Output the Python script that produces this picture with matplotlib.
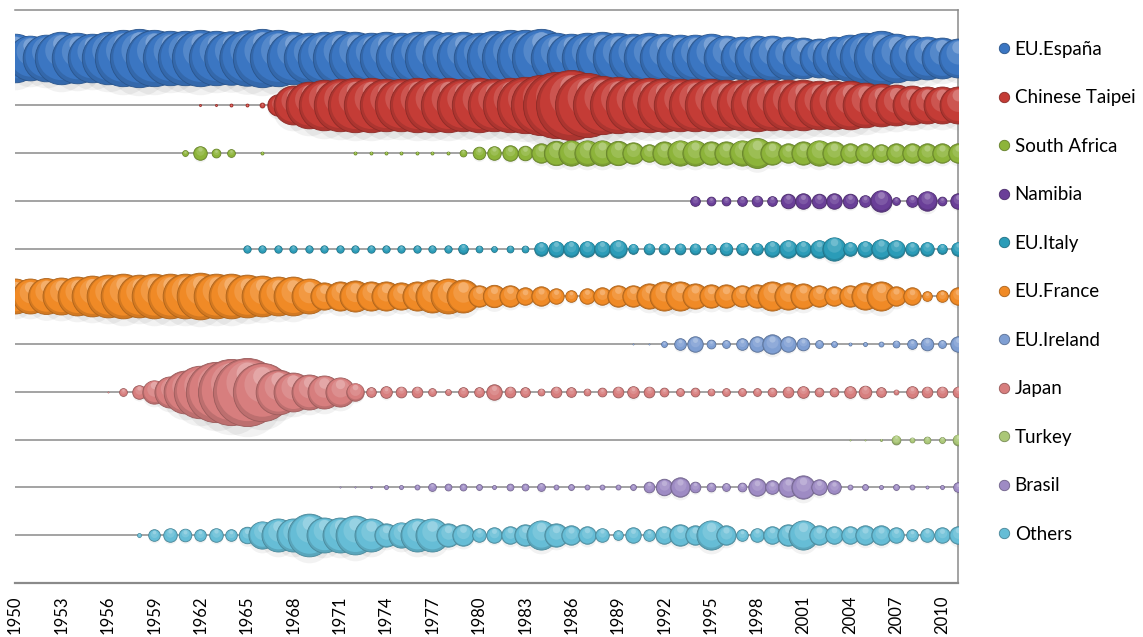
import numpy as np
import matplotlib.pyplot as plt
import matplotlib.transforms as mtransforms
from matplotlib.colors import to_rgb
from matplotlib.lines import Line2D

plt.rcParams['font.family'] = ['Lato', 'DejaVu Sans']

years = list(range(1950, 2012))

espana = [10000, 8460, 9220, 11660, 10820, 10000, 11660, 13460, 14400, 13460,
          12540, 12540, 13460, 12540, 12100, 13000, 14400, 13460, 11660, 10820,
          11660, 12540, 11660, 10820, 11660, 10820, 11660, 12540, 11240, 11660,
          10820, 12540, 13460, 13460, 14400, 10820, 10000, 10820, 11660, 10820,
          10000, 10820, 10000, 9220, 9220, 10000, 8460, 7740, 8460, 8460,
          7740, 7060, 6400, 7740, 9220, 10820, 12540, 10000, 8460, 7740,
          7060, 6400]
taipei = [0, 0, 0, 0, 0, 0, 0, 0, 0, 0,
          0, 0, 16, 16, 36, 36, 100, 1940, 6400, 9220,
          10820, 11660, 12540, 12540, 11660, 11660, 12540, 12540, 12540, 11660,
          12540, 11660, 12540, 13460, 15380, 18500, 20740, 17420, 14400, 13460,
          12540, 12540, 12100, 11660, 11660, 11660, 10820, 10820, 11660, 10820,
          10820, 10820, 10000, 10000, 10000, 8460, 7740, 7060, 6400, 5780,
          5780, 5780]
south_africa = [0, 0, 0, 0, 0, 0, 0, 0, 0, 0,
                0, 144, 784, 324, 256, 0, 36, 0, 0, 0,
                0, 0, 36, 36, 36, 36, 36, 36, 36, 196,
                676, 784, 1020, 900, 1600, 2500, 2700, 2700, 2700, 2500,
                1940, 1300, 2300, 2700, 2700, 2300, 2300, 2700, 3800, 2300,
                1600, 2300, 2700, 2300, 1600, 1600, 1300, 1600, 1600, 1600,
                1600, 1600]
namibia = [0, 0, 0, 0, 0, 0, 0, 0, 0, 0,
           0, 0, 0, 0, 0, 0, 0, 0, 0, 0,
           0, 0, 0, 0, 0, 0, 0, 0, 0, 0,
           0, 0, 0, 0, 0, 0, 0, 0, 0, 0,
           0, 0, 0, 0, 400, 324, 324, 400, 484, 400,
           900, 1020, 900, 1020, 900, 576, 1940, 256, 576, 1600,
           324, 1020]
italy = [0, 0, 0, 0, 0, 0, 0, 0, 0, 0,
         0, 0, 0, 0, 0, 230, 230, 230, 230, 230,
         230, 230, 230, 230, 230, 230, 230, 230, 230, 400,
         196, 144, 196, 196, 784, 1020, 1020, 1020, 1020, 1300,
         400, 484, 484, 484, 484, 400, 676, 576, 576, 1020,
         1300, 1020, 1300, 2300, 784, 1020, 1600, 1300, 784, 784,
         400, 784]
france = [5180, 5180, 5480, 5780, 6400, 7060, 7740, 8460, 7740, 8460,
          8460, 8460, 9220, 8460, 8460, 7740, 7060, 6400, 6400, 5180,
          3140, 3600, 4100, 3600, 3600, 3140, 3600, 4620, 5180, 4620,
          1940, 2120, 1940, 1300, 1600, 1020, 576, 1020, 1300, 1940,
          1940, 2700, 3600, 3600, 2700, 2300, 2300, 1940, 2300, 3600,
          3140, 2700, 1940, 1600, 1940, 3140, 3600, 1600, 1300, 400,
          576, 1300]
ireland = [0, 0, 0, 0, 0, 0, 0, 0, 0, 0,
           0, 0, 0, 0, 0, 0, 0, 0, 0, 0,
           0, 0, 0, 0, 0, 0, 0, 0, 0, 0,
           0, 0, 0, 0, 0, 0, 0, 0, 0, 0,
           4, 4, 144, 576, 1020, 324, 256, 576, 1020, 1600,
           1020, 676, 256, 144, 36, 64, 100, 196, 400, 676,
           256, 1020]
japan = [0, 0, 0, 0, 0, 0, 4, 256, 784, 2300,
         4100, 7740, 11660, 15380, 18500, 19600, 14400, 8460, 6400, 5180,
         4620, 3600, 1300, 400, 576, 484, 484, 256, 144, 400,
         400, 1020, 484, 400, 196, 484, 400, 196, 324, 484,
         576, 484, 324, 256, 324, 196, 256, 256, 256, 324,
         484, 576, 324, 324, 576, 676, 400, 100, 576, 484,
         484, 484]
turkey = [0, 0, 0, 0, 0, 0, 0, 0, 0, 0,
          0, 0, 0, 0, 0, 0, 0, 0, 0, 0,
          0, 0, 0, 0, 0, 0, 0, 0, 0, 0,
          0, 0, 0, 0, 0, 0, 0, 0, 0, 0,
          0, 0, 0, 0, 0, 0, 0, 0, 0, 0,
          0, 0, 0, 0, 4, 4, 16, 324, 100, 196,
          144, 484]
brasil = [0, 0, 0, 0, 0, 0, 0, 0, 0, 0,
          0, 0, 0, 0, 0, 0, 0, 0, 0, 0,
          0, 4, 4, 16, 64, 64, 100, 256, 196, 196,
          144, 64, 196, 196, 256, 100, 144, 100, 100, 100,
          144, 484, 1160, 1600, 484, 324, 256, 324, 1300, 784,
          1600, 2300, 1020, 784, 100, 144, 64, 144, 100, 36,
          64, 400]
others = [0, 0, 0, 0, 0, 0, 0, 0, 64, 576,
          784, 676, 576, 784, 576, 1160, 3140, 4620, 4620, 7740,
          5180, 5180, 6400, 4620, 2300, 2700, 4620, 4620, 2300, 1940,
          784, 1020, 1300, 1940, 3600, 2300, 1600, 1300, 784, 400,
          1020, 576, 1300, 1940, 1600, 3600, 1600, 576, 784, 1300,
          1940, 3600, 1600, 1300, 1300, 1600, 1600, 1020, 576, 784,
          1020, 1300]

names = ["EU.España", "Chinese Taipei", "South Africa", "Namibia", "EU.Italy",
         "EU.France", "EU.Ireland", "Japan", "Turkey", "Brasil", "Others"]
catches = [espana, taipei, south_africa, namibia, italy, france, ireland,
           japan, turkey, brasil, others]
colors = ["#3b76c2", "#c43c36", "#8db43a", "#6a3f98", "#2b9cb8", "#f08a26",
          "#7f9fd3", "#d77e7e", "#aac777", "#9e8bc4", "#66bdd6"]

fig = plt.figure(figsize=(11.43, 6.37), dpi=100)
ax = fig.add_axes([0.0131, 0.0848, 0.8250, 0.8995])
ax.set_xlim(1950, 2011)
ax.set_ylim(0, 12)

# largest bubble ~70 px across, area proportional to catch
vmax = max(max(c) for c in catches)
max_d_pt = 70 * 72 / 100.0

layers = [(0.9, 0.0, 0.03), (0.62, 0.13, 0.14), (0.32, 0.32, 0.28)]

z = 3
for i, (name, vals, col) in enumerate(zip(names, catches, colors)):
    row = 11 - i
    base = np.array(to_rgb(col))
    dark = base * 0.72
    for yr, v in zip(years, vals):
        if v <= 0:
            continue
        d = max_d_pt * np.sqrt(v / vmax)
        sh = mtransforms.offset_copy(ax.transData, fig=fig, x=0, y=-0.14 * d, units='points')
        ax.scatter([yr], [row], s=(d * 1.02) ** 2, color='k', alpha=0.05,
                   linewidths=0, transform=sh, zorder=2)
        ax.scatter([yr], [row], s=d ** 2, color=base * 0.88, edgecolors=dark,
                   linewidths=0.6, zorder=z)
        for k, (f, mix, up) in enumerate(layers):
            c = base + (1 - base) * mix
            tr = mtransforms.offset_copy(ax.transData, fig=fig, x=0, y=up * d, units='points')
            ax.scatter([yr], [row], s=(d * f) ** 2, color=c, linewidths=0,
                       transform=tr, zorder=z + 0.001 * (k + 1))
        z += 0.01

ax.set_yticks(range(1, 12))
ax.set_yticklabels([])
ax.grid(axis='y', color='#8a8a8a', linewidth=1.1)
ax.set_axisbelow(True)
ax.set_xticks(range(1950, 2011, 3))
ax.set_xticklabels([str(y) for y in range(1950, 2011, 3)], rotation=90, fontsize=12)
ax.tick_params(axis='x', length=0, pad=9)
ax.tick_params(axis='y', length=0)
for s in ['top', 'right', 'bottom']:
    ax.spines[s].set_color('#8a8a8a')
    ax.spines[s].set_linewidth(1.1)
ax.spines['bottom'].set_linewidth(1.6)
ax.spines['left'].set_visible(False)

handles = [Line2D([], [], marker='o', linestyle='none', markersize=7.5,
                  markerfacecolor=c, markeredgecolor=np.array(to_rgb(c)) * 0.7,
                  markeredgewidth=0.6) for c in colors]
fig.legend(handles, names, loc='upper left', bbox_to_anchor=(0.864, 0.948),
           frameon=False, fontsize=13.5, handletextpad=0.05, labelspacing=1.68,
           handlelength=1.0, borderaxespad=0)

fig.savefig('out.png', dpi=100)
